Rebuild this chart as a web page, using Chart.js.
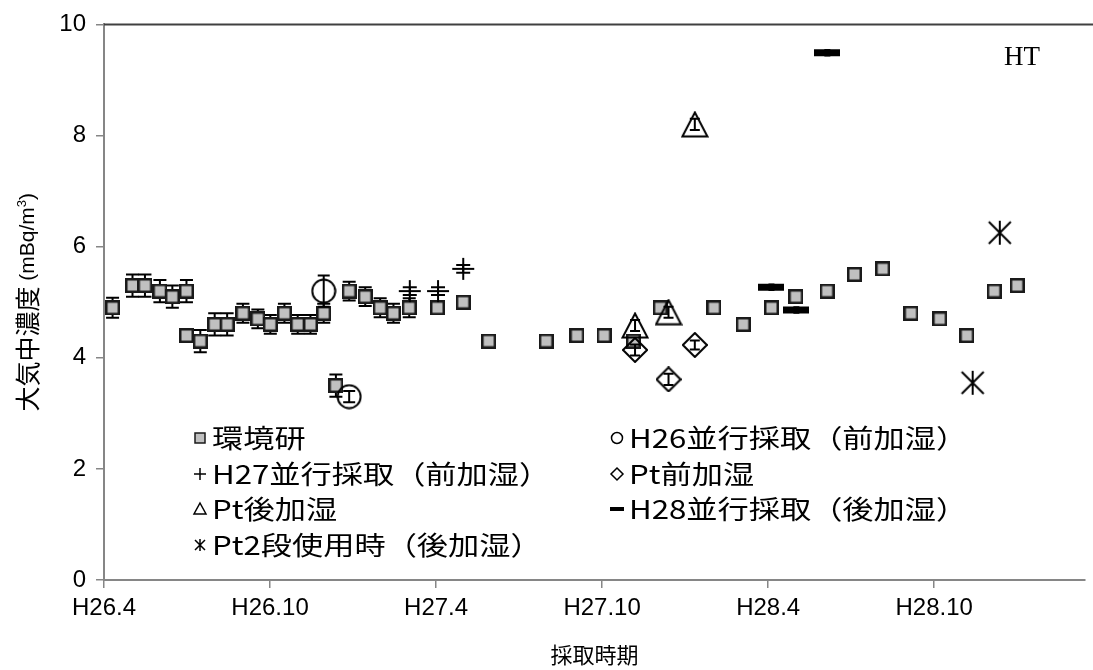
<!DOCTYPE html>
<html>
<head>
<meta charset="utf-8">
<script src="https://cdn.jsdelivr.net/npm/chart.js@4.4.0/dist/chart.umd.min.js"></script>
<style>
  html, body { margin: 0; padding: 0; background: #fff; }
  #wrap { width: 1093px; height: 670px; }
</style>
</head>
<body>
<div id="wrap"><canvas id="chart" width="1093" height="670"></canvas></div>
<script>
// x is the sampling time in months counted from H26.4
const xTickValues = [0, 6, 12, 18, 24, 30];
const xTickLabels = ['H26.4', 'H26.10', 'H27.4', 'H27.10', 'H28.4', 'H28.10'];

// 環境研 (routine sampling)
const kankyoMonths = [0.31, 1.03, 1.48, 2.02, 2.47, 2.98, 2.98, 3.48, 4.0, 4.45, 5.02, 5.56, 6.01, 6.52, 7.0, 7.46, 7.94, 8.38, 8.86, 9.44, 9.98, 10.46, 11.03,
  12.05, 12.98, 13.9, 15.98, 17.09, 18.07, 19.13, 20.1, 22.04, 23.1, 24.12, 25.0, 26.13, 27.12, 28.14, 29.16, 30.2, 31.18, 32.17, 33.0];
const kankyoValues = [4.9, 5.3, 5.3, 5.2, 5.1, 5.2, 4.4, 4.3, 4.6, 4.6, 4.8, 4.7, 4.6, 4.8, 4.6, 4.6, 4.8, 3.5, 5.2, 5.1, 4.9, 4.8, 4.9,
  4.9, 5.0, 4.3, 4.3, 4.4, 4.4, 4.3, 4.9, 4.9, 4.6, 4.9, 5.1, 5.2, 5.5, 5.6, 4.8, 4.7, 4.4, 5.2, 5.3];
const kankyoErrors = [0.18, 0.2, 0.2, 0.2, 0.2, 0.2, 0, 0.2, 0.2, 0.2, 0.17, 0.17, 0.17, 0.17, 0.17, 0.17, 0.17, 0.2, 0.17, 0.17, 0.17, 0.17, 0.17,
  0, 0, 0, 0, 0, 0, 0, 0, 0, 0, 0, 0, 0, 0, 0, 0, 0, 0, 0, 0];

const h26Months = [7.94, 8.86];
const h26Values = [5.2, 3.3];
const h26Errors = [0.28, 0.1];

const h27Months = [11.05, 12.07, 12.98];
const h27Values = [5.2, 5.2, 5.6];
const h27Errors = [0.07, 0.07, 0.07];

const ptPreMonths = [19.19, 20.4, 21.35];
const ptPreValues = [4.14, 3.61, 4.23];
const ptPreErrors = [0.1, 0.1, 0.08];

const ptPostMonths = [19.19, 20.4, 21.35];
const ptPostValues = [4.58, 4.82, 8.2];
const ptPostErrors = [0.1, 0.1, 0.1];

const h28Months = [24.12, 25.02, 26.14];
const h28Values = [5.27, 4.86, 9.49];
const h28Errors = [0.05, 0.05, 0.05];

const pt2Months = [31.39, 32.37];
const pt2Values = [3.55, 6.25];
const pt2Errors = [0, 0];

const seriesNames = ['環境研', 'H26並行採取（前加湿）', 'H27並行採取（前加湿）', 'Pt前加湿', 'Pt後加湿', 'H28並行採取（後加湿）', 'Pt2段使用時（後加湿）'];

// small canvases used as point styles
function marker(w, h, draw) {
  const c = document.createElement('canvas');
  c.width = w; c.height = h;
  const g = c.getContext('2d');
  g.strokeStyle = '#000';
  g.lineWidth = 2;
  draw(g);
  return c;
}
const squareMark = marker(15, 15, g => {
  g.fillStyle = '#c0c0c0';
  g.fillRect(1, 1, 13, 13);
  g.strokeStyle = '#1a1a1a';
  g.lineWidth = 2.5;
  g.strokeRect(1.25, 1.25, 12.5, 12.5);
});
const circleMark = marker(26, 26, g => { g.beginPath(); g.arc(13, 13, 11.5, 0, Math.PI * 2); g.stroke(); });
const plusMark = marker(24, 24, g => { g.beginPath(); g.moveTo(1, 12); g.lineTo(23, 12); g.moveTo(12, 1); g.lineTo(12, 23); g.stroke(); });
const diamondMark = marker(26, 26, g => {
  g.beginPath(); g.moveTo(13, 1); g.lineTo(25, 13); g.lineTo(13, 25); g.lineTo(1, 13); g.closePath(); g.stroke();
});
const triangleMark = marker(28, 27, g => {
  g.beginPath(); g.moveTo(14, 1.5); g.lineTo(26.5, 25.5); g.lineTo(1.5, 25.5); g.closePath(); g.stroke();
});
const dashMark = marker(26, 9, g => { g.fillStyle = '#000'; g.fillRect(0, 1, 26, 7); });
const starMark = marker(26, 26, g => {
  g.beginPath();
  g.moveTo(13, 1); g.lineTo(13, 25);
  g.moveTo(2, 2); g.lineTo(24, 24);
  g.moveTo(24, 2); g.lineTo(2, 24);
  g.stroke();
});

function pts(xs, ys) { return xs.map((x, i) => ({x: x, y: ys[i]})); }

const seriesDefs = [
  {xs: kankyoMonths, ys: kankyoValues, errs: kankyoErrors, mark: squareMark, cap: 13},
  {xs: h26Months, ys: h26Values, errs: h26Errors, mark: circleMark, cap: 12},
  {xs: h27Months, ys: h27Values, errs: h27Errors, mark: plusMark, cap: 14},
  {xs: ptPreMonths, ys: ptPreValues, errs: ptPreErrors, mark: diamondMark, cap: 10},
  {xs: ptPostMonths, ys: ptPostValues, errs: ptPostErrors, mark: triangleMark, cap: 10},
  {xs: h28Months, ys: h28Values, errs: h28Errors, mark: dashMark, cap: 6},
  {xs: pt2Months, ys: pt2Values, errs: pt2Errors, mark: starMark, cap: 10}
];

const datasets = seriesDefs.map((s, i) => ({
  label: seriesNames[i],
  data: pts(s.xs, s.ys),
  pointStyle: s.mark,
  pointRadius: 7,
  pointHoverRadius: 7,
  showLine: false,
  order: seriesDefs.length - i
}));

// vertical error bars, drawn just under each series' markers
const errorBars = {
  id: 'errorBars',
  beforeDatasetDraw(chart, args) {
    const def = seriesDefs[args.index];
    const y = chart.scales.y;
    const ctx = chart.ctx;
    const meta = chart.getDatasetMeta(args.index);
    ctx.save();
    ctx.strokeStyle = '#000';
    ctx.lineWidth = 2;
    meta.data.forEach((p, i) => {
      const e = def.errs[i];
      if (!e) return;
      const v = def.ys[i];
      const top = y.getPixelForValue(v + e);
      const bot = y.getPixelForValue(v - e);
      const h = def.cap / 2;
      ctx.beginPath();
      ctx.moveTo(p.x, top); ctx.lineTo(p.x, bot);
      ctx.moveTo(p.x - h, top); ctx.lineTo(p.x + h, top);
      ctx.moveTo(p.x - h, bot); ctx.lineTo(p.x + h, bot);
      ctx.stroke();
    });
    ctx.restore();
  }
};

// legend symbols
function legendSymbol(ctx, kind, x, y) {
  ctx.save();
  ctx.strokeStyle = '#000';
  ctx.lineWidth = 1.5;
  ctx.beginPath();
  if (kind === 0) {
    ctx.fillStyle = '#c0c0c0';
    ctx.fillRect(x - 5, y - 5, 10, 10);
    ctx.strokeStyle = '#1a1a1a';
    ctx.strokeRect(x - 5, y - 5, 10, 10);
  } else if (kind === 1) {
    ctx.arc(x, y, 5.5, 0, Math.PI * 2); ctx.stroke();
  } else if (kind === 2) {
    ctx.moveTo(x - 6, y); ctx.lineTo(x + 6, y); ctx.moveTo(x, y - 6); ctx.lineTo(x, y + 6); ctx.stroke();
  } else if (kind === 3) {
    ctx.moveTo(x, y - 6); ctx.lineTo(x + 6, y); ctx.lineTo(x, y + 6); ctx.lineTo(x - 6, y); ctx.closePath(); ctx.stroke();
  } else if (kind === 4) {
    ctx.moveTo(x, y - 6); ctx.lineTo(x + 6, y + 5); ctx.lineTo(x - 6, y + 5); ctx.closePath(); ctx.stroke();
  } else if (kind === 5) {
    ctx.fillStyle = '#000'; ctx.fillRect(x - 7, y - 2, 14, 4);
  } else {
    ctx.moveTo(x, y - 6); ctx.lineTo(x, y + 6);
    ctx.moveTo(x - 5, y - 5); ctx.lineTo(x + 5, y + 5);
    ctx.moveTo(x + 5, y - 5); ctx.lineTo(x - 5, y + 5);
    ctx.stroke();
  }
  ctx.restore();
}

const legendCols = [200, 617];
const legendRows = [438, 474, 509, 545];
const legendStretch = 1.2;

const decorations = {
  id: 'decorations',
  afterDraw(chart) {
    const ctx = chart.ctx;
    const area = chart.chartArea;
    const cjk = '"Noto Sans CJK JP", sans-serif';

    // frame line along the top of the plot
    ctx.save();
    ctx.strokeStyle = '#404040';
    ctx.lineWidth = 2;
    ctx.beginPath();
    ctx.moveTo(area.left, area.top);
    ctx.lineTo(chart.width, area.top);
    ctx.stroke();

    // legend, two columns inside the plot; the text runs a little wide
    ctx.fillStyle = '#000';
    ctx.textBaseline = 'middle';
    ctx.font = '26px ' + cjk;
    seriesNames.forEach((name, i) => {
      const col = i % 2, row = Math.floor(i / 2);
      const x = legendCols[col], y = legendRows[row];
      legendSymbol(ctx, i, x, y);
      ctx.save();
      ctx.translate(x + 12, y);
      ctx.scale(legendStretch, 1);
      ctx.fillText(name, 0, 0);
      ctx.restore();
    });

    ctx.font = '27px "Liberation Serif", serif';
    ctx.fillText('HT', 1004, 58);

    // x title
    ctx.textAlign = 'center';
    ctx.font = '22px ' + cjk;
    ctx.fillText('採取時期', (area.left + area.right) / 2, 655);

    // y title with unit
    ctx.translate(27, (area.top + area.bottom) / 2);
    ctx.rotate(-Math.PI / 2);
    ctx.textAlign = 'left';
    const parts = [
      {t: '大気中濃度', f: '25px ' + cjk, dy: 0},
      {t: ' (mBq/m', f: '21px "Liberation Sans", sans-serif', dy: 1},
      {t: '3', f: '13px "Liberation Sans", sans-serif', dy: -5},
      {t: ')', f: '21px "Liberation Sans", sans-serif', dy: 1}
    ];
    let total = 0;
    parts.forEach(p => { ctx.font = p.f; p.w = ctx.measureText(p.t).width; total += p.w; });
    let cx = -total / 2;
    parts.forEach(p => { ctx.font = p.f; ctx.fillText(p.t, cx, p.dy); cx += p.w; });
    ctx.restore();
  }
};

new Chart(document.getElementById('chart'), {
  type: 'scatter',
  data: {datasets: datasets},
  plugins: [errorBars, decorations],
  options: {
    responsive: false,
    animation: false,
    layout: {padding: {top: 23, right: 5, left: 0, bottom: 0}},
    plugins: {
      legend: {display: false},
      tooltip: {enabled: false}
    },
    scales: {
      x: {
        type: 'linear',
        min: 0,
        max: 35.45,
        afterFit: s => { s.height = 90; },
        afterBuildTicks: s => { s.ticks = xTickValues.map(v => ({value: v})); },
        ticks: {
          autoSkip: false,
          maxRotation: 0,
          padding: 6,
          color: '#000',
          font: {family: '"Liberation Sans", Arial, sans-serif', size: 24},
          callback: v => xTickLabels[xTickValues.indexOf(v)]
        },
        grid: {display: true, drawOnChartArea: false, tickLength: 8, color: '#868686', lineWidth: 1.5},
        border: {color: '#868686', width: 2}
      },
      y: {
        min: 0,
        max: 10,
        afterFit: s => { s.width = 104; },
        ticks: {
          stepSize: 2,
          padding: 10,
          color: '#000',
          font: {family: '"Liberation Sans", Arial, sans-serif', size: 24}
        },
        grid: {display: true, drawOnChartArea: false, tickLength: 8, color: '#868686', lineWidth: 1.5},
        border: {color: '#868686', width: 2}
      }
    }
  }
});
</script>
</body>
</html>
